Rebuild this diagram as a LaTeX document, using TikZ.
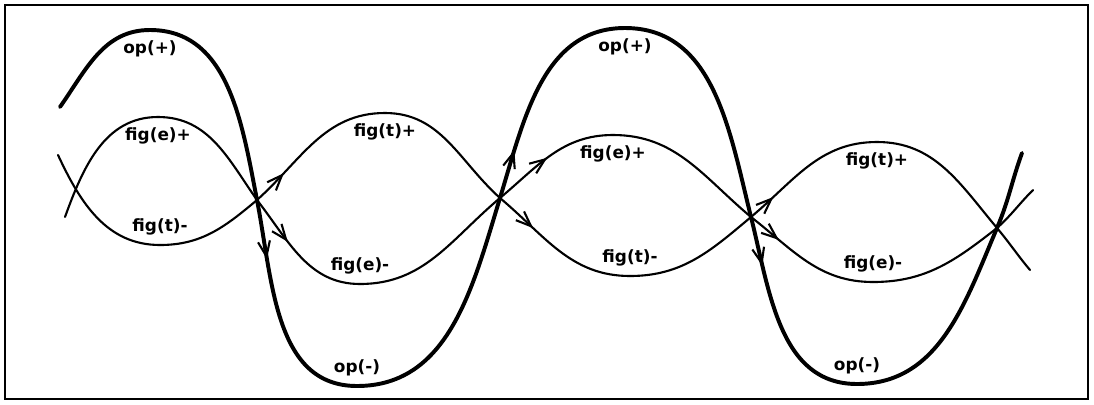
\documentclass[tikz,border=0pt]{standalone}
\usepackage{fontspec}
\setmainfont{DejaVu Sans}
\usetikzlibrary{positioning,arrows.meta,decorations.markings}

\begin{document}
\begin{tikzpicture}[
    x=0.025cm, y=0.025cm,
    node distance=0.25cm,
    lbl/.style={inner sep=0pt, font=\fontsize{12}{14}\selectfont\bfseries},
    op/.style={line width=2.8pt, line cap=round},
    fig/.style={line width=1.5pt, line cap=round},
    mid/.style={postaction={decorate, decoration={markings,
        mark=at position #1 with {\arrow{Straight Barb[length=3.8mm,width=3mm,line width=1.5pt]}}}}}
]
\useasboundingbox (0,0) rectangle (1094,-404);
\draw[line width=2pt] (5,-5) rectangle (1088,-399);

\coordinate (x1) at (257,-200);
\coordinate (x2) at (500,-198);
\coordinate (x3) at (751,-217);
\coordinate (x4) at (997,-228);

\coordinate (o0) at (60,-107);
\coordinate (o1) at (150,-30);
\coordinate (o2) at (357,-386);
\coordinate (o3) at (625,-28);
\coordinate (o4) at (857,-384);
\coordinate (o5) at (1022,-153);

\coordinate (e0) at (65,-217);
\coordinate (e1) at (158,-117);
\coordinate (e2) at (360,-284);
\coordinate (e3) at (613,-135);
\coordinate (e4) at (873,-282);
\coordinate (e5) at (1033,-190);

\coordinate (t0) at (58,-155);
\coordinate (t1) at (160,-245);
\coordinate (t2) at (385,-113);
\coordinate (t3) at (630,-276);
\coordinate (t4) at (877,-142);
\coordinate (t5) at (1030,-270);

\draw[op] (o0) to[out=55,in=180] (o1);
\draw[op] (o1) to[out=0,in=101] (x1);
\draw[op, mid=1.5cm] (x1) to[out=-79,in=180] (o2);
\draw[op] (o2) to[out=0,in=253] (x2);
\draw[op, mid=1.25cm] (x2) to[out=73,in=180] (o3);
\draw[op] (o3) to[out=0,in=104] (x3);
\draw[op, mid=1.25cm] (x3) to[out=-76,in=180] (o4);
\draw[op] (o4) to[out=0,in=247] (x4);
\draw[op] (x4) to[out=67,in=250] (o5);

\draw[fig] (e0) to[out=70,in=180] (e1);
\draw[fig] (e1) to[out=0,in=125] (x1);
\draw[fig, mid=1.3cm] (x1) to[out=-52,in=180] (e2);
\draw[fig] (e2) to[out=0,in=220] (x2);
\draw[fig, mid=1.55cm] (x2) to[out=40,in=180] (e3);
\draw[fig] (e3) to[out=0,in=140] (x3);
\draw[fig, mid=0.9cm] (x3) to[out=-38,in=180] (e4);
\draw[fig] (e4) to[out=0,in=218] (x4);
\draw[fig] (x4) to[out=42,in=225] (e5);

\draw[fig] (t0) to[out=-65,in=180] (t1);
\draw[fig] (t1) to[out=0,in=220] (x1);
\draw[fig, mid=0.95cm] (x1) to[out=42,in=180] (t2);
\draw[fig] (t2) to[out=0,in=138] (x2);
\draw[fig, mid=1.12cm] (x2) to[out=-40,in=180] (t3);
\draw[fig] (t3) to[out=0,in=220] (x3);
\draw[fig, mid=0.75cm] (x3) to[out=40,in=180] (t4);
\draw[fig] (t4) to[out=0,in=130] (x4);
\draw[fig] (x4) to[out=-50,in=130] (t5);

\node[lbl, below=of o1] (opp1) {op(+)};
\node[lbl, below=of o3] (opp2) {op(+)};
\node[lbl, above=of o2] (opm1) {op(-)};
\node[lbl, above=of o4] (opm2) {op(-)};
\node[lbl, below=of e1] (fep1) {fig(e)+};
\node[lbl, below=of e3] (fep2) {fig(e)+};
\node[lbl, above=of e2] (fem1) {fig(e)-};
\node[lbl, above=of e4] (fem2) {fig(e)-};
\node[lbl, below=of t2] (ftp1) {fig(t)+};
\node[lbl, below=of t4] (ftp2) {fig(t)+};
\node[lbl, above=of t1] (ftm1) {fig(t)-};
\node[lbl, above=of t3] (ftm2) {fig(t)-};
\end{tikzpicture}
\end{document}
